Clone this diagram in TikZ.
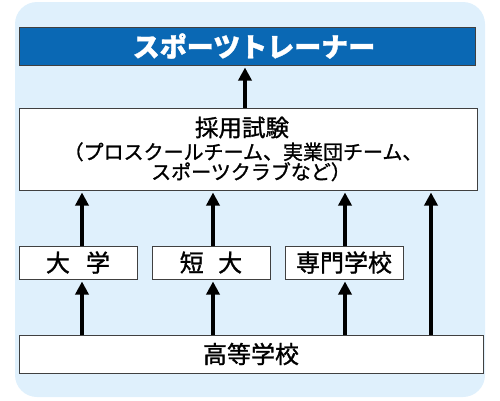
\documentclass[tikz,border=0pt]{standalone}
\usepackage{fontspec}
\setmainfont{Noto Sans CJK JP}[RawFeature={embolden=1.2}]
\usetikzlibrary{arrows.meta}
\definecolor{bgblue}{HTML}{DFF0FC}
\definecolor{topblue}{HTML}{0A68B4}
\definecolor{edge}{HTML}{404040}
\tikzset{
  box/.style={draw=edge, line width=1pt, fill=white, inner sep=0pt, align=center},
  arr/.style={line width=4pt, -{Triangle[length=13pt,width=13pt]}, shorten >=2pt},
}
\begin{document}
\begin{tikzpicture}[x=1pt,y=-1pt]
\useasboundingbox (0,0) rectangle (500,400);
\fill[bgblue, rounded corners=22pt] (15,2) rectangle (485,397);
\node[box, fill=topblue, minimum width=456pt, minimum height=38pt, text=white, font=\fontsize{27}{29}\selectfont\bfseries] (top) at (247,46) {\hspace{14pt}スポーツトレーナー};
\node[box, minimum width=458pt, minimum height=82pt, font=\fontsize{20}{22}\selectfont] (exam) at (248,149)
  {{\fontsize{23.5}{24}\selectfont \hspace{-12pt}採用試験}\\[1pt]
   \hspace{-10pt}（プロスクールチーム、実業団チーム、\\[-2pt]
   \hspace{6pt}スポーツクラブなど）};
\node[box, minimum width=118pt, minimum height=33pt, font=\fontsize{24}{26}\selectfont] (dai) at (78,262.5) {大\hspace{0.67em}学};
\node[box, minimum width=118pt, minimum height=33pt, font=\fontsize{24}{26}\selectfont] (tan) at (211,262.5) {短\hspace{0.6em}大};
\node[box, minimum width=118pt, minimum height=33pt, font=\fontsize{24}{26}\selectfont] (sen) at (344,262.5) {専門学校};
\node[box, minimum width=464pt, minimum height=38pt, font=\fontsize{24}{26}\selectfont] (koko) at (251,354) {高等学校};
\draw[arr] ([xshift=-3pt]exam.north) -- ([xshift=-2pt]top.south);
\draw[arr] ([xshift=4pt]dai.north) -- ([xshift=4pt]dai.north |- exam.south);
\draw[arr] ([xshift=2pt]tan.north) -- ([xshift=2pt]tan.north |- exam.south);
\draw[arr] ([xshift=1pt]sen.north) -- ([xshift=1pt]sen.north |- exam.south);
\draw[arr] ([xshift=4pt]dai.south |- koko.north) -- ([xshift=4pt]dai.south);
\draw[arr] ([xshift=2pt]tan.south |- koko.north) -- ([xshift=2pt]tan.south);
\draw[arr] ([xshift=1pt]sen.south |- koko.north) -- ([xshift=1pt]sen.south);
\draw[arr] ([xshift=180pt]koko.north) -- ([xshift=180pt]koko.north |- exam.south);
\end{tikzpicture}
\end{document}
